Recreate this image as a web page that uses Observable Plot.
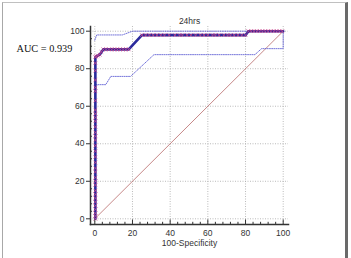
<!DOCTYPE html>
<html><head><meta charset="utf-8">
<script src="https://cdn.jsdelivr.net/npm/d3@7"></script>
<script src="https://cdn.jsdelivr.net/npm/@observablehq/plot@0.6"></script>
<style>
body{margin:0;background:#fff;}
#wrap{position:relative;width:351px;height:258px;overflow:hidden;}
#border{position:absolute;left:2px;top:2px;width:342px;height:300px;border-left:1.5px solid #a8a8a8;border-top:1px solid #c0c0c0;border-right:3px solid #6a6a6a;pointer-events:none;}
svg{display:block;}
</style></head><body><div id="wrap"><div id="border"></div></div>
<script>
const title = "24hrs";
const aucLabel = "AUC = 0.939";
const xLabel = "100-Specificity";
const majorTicks = [0, 20, 40, 60, 80, 100];
const minorTicks = [4, 8, 12, 16, 24, 28, 32, 36, 44, 48, 52, 56, 64, 68, 72, 76, 84, 88, 92, 96];

// ROC curve vertices (100-Specificity, Sensitivity)
const rocX = [0.3, 0.3, 0.8, 1.6, 2.6, 4.5, 18, 25, 80, 81.5, 100];
const rocY = [0, 86.2, 86.6, 87, 87.5, 90.3, 90.3, 97.9, 97.9, 100, 100];

// ROC markers
const markX = [0.3,0.3,0.3,0.3,0.3,0.3,0.3,0.3,0.3,0.3,0.3,0.3,0.3,0.3,0.3,0.3,0.3,0.3,0.3,0.3,0.3,0.3,0.3,0.3,0.3,0.3,0.3,0.3,0.3,0.3,0.3,0.3,0.3,
  0.8,1.6,2.6,3.5,
  4.5,6,7.5,9,10.5,12,13.5,15,16.5,18,
  25,27,29,31,33,35,37,39.5,42.5,45,46.5,49,51,53.5,56,58,60,62.5,64,66,68.5,70.5,72,74,76,78,80,
  81.5,83,84.5,86,87.5,89,90.5,92,93.5,95,96.5,98,99.5];
const markY = [0,1.5,3,5,7,9,11,13,15,18,20,22,25,27,30,33,36,39,42,44,46,49,52,54,56,58,63,68,70,74,79,83,86.2,
  86.6,87,87.5,89,
  90.3,90.3,90.3,90.3,90.3,90.3,90.3,90.3,90.3,90.3,
  97.9,97.9,97.9,97.9,97.9,97.9,97.9,97.9,97.9,97.9,97.9,97.9,97.9,97.9,97.9,97.9,97.9,97.9,97.9,97.9,97.9,97.9,97.9,97.9,97.9,97.9,97.9,
  100,100,100,100,100,100,100,100,100,100,100,100,100];

// 95% confidence bounds
const upperX = [0, 1, 14.6, 20, 100];
const upperY = [95.2, 98, 98, 100, 100];
const lowerX = [0.5, 5.8, 8.5, 19, 31.4, 85, 88.5, 100, 100];
const lowerY = [71.5, 71.5, 75.9, 75.9, 87.5, 87.5, 90.7, 90.7, 100];

// diagonal reference line
const diagX = [0, 100];
const diagY = [0, 100];

const zip = (xs, ys) => xs.map((x, i) => ({x, y: ys[i]}));
const roc = zip(rocX, rocY);
const marks = zip(markX, markY);
const upper = zip(upperX, upperY);
const lower = zip(lowerX, lowerY);
const diag = zip(diagX, diagY);

const font = "'Liberation Sans', Arial, sans-serif";
const textColor = "#333";

const chart = Plot.plot({
  width: 351,
  height: 258,
  marginLeft: 90,
  marginRight: 63,
  marginTop: 26,
  marginBottom: 34,
  style: {fontFamily: font, fontSize: "8.5px", color: textColor, background: "transparent"},
  x: {domain: [0, 100], insetLeft: 4.3, insetRight: 5.3},
  y: {domain: [0, 100], insetTop: 4.7, insetBottom: 5.7},
  marks: [
    Plot.gridX(majorTicks, {stroke: "#aaaaaa", strokeOpacity: 1, strokeDasharray: "1,1.5", strokeWidth: 0.8}),
    Plot.gridY(majorTicks, {stroke: "#aaaaaa", strokeOpacity: 1, strokeDasharray: "1,1.5", strokeWidth: 0.8}),
    Plot.line(diag, {x: "x", y: "y", stroke: "#b86a6a", strokeWidth: 0.8}),
    Plot.line(upper, {x: "x", y: "y", stroke: "#5050d0", strokeWidth: 0.8, strokeDasharray: "1,1.2"}),
    Plot.line(lower, {x: "x", y: "y", stroke: "#5050d0", strokeWidth: 0.8, strokeDasharray: "1,1.2"}),
    Plot.line(roc, {x: "x", y: "y", stroke: "#2a2a9c", strokeWidth: 2.6}),
    Plot.dot(marks, {x: "x", y: "y", symbol: "times", r: 1.8, stroke: "#c8428a", strokeWidth: 0.8}),
    Plot.frame({anchor: "bottom", stroke: "#333", strokeWidth: 1.5}),
    Plot.frame({anchor: "left", stroke: "#333", strokeWidth: 1.5}),
    Plot.axisX(majorTicks, {tickSize: -4.5, text: null, stroke: "#333", label: null}),
    Plot.axisX(minorTicks, {tickSize: -2.2, text: null, stroke: "#333", label: null}),
    Plot.axisX(majorTicks, {tickSize: 0, tickPadding: 5, fill: textColor, label: null, fontSize: 8.5}),
    Plot.axisY(majorTicks, {tickSize: 4, tickPadding: 2, stroke: "#333", fill: textColor, label: null, fontSize: 8.5}),
    Plot.axisY(minorTicks, {tickSize: -2, text: null, stroke: "#333", label: null}),
    Plot.text([title], {frameAnchor: "top", dy: -9, text: d => d, fill: textColor, fontSize: 8.5}),
    Plot.text([xLabel], {frameAnchor: "bottom", dy: 21, text: d => d, fill: textColor, fontSize: 8.5}),
    Plot.text([aucLabel], {frameAnchor: "top-left", dx: -74, dy: 18, text: d => d, textAnchor: "start", fill: "#111", fontSize: 10.3, fontFamily: "'Liberation Serif', 'Times New Roman', serif"})
  ]
});
document.getElementById("wrap").prepend(chart);
</script>
</body></html>
